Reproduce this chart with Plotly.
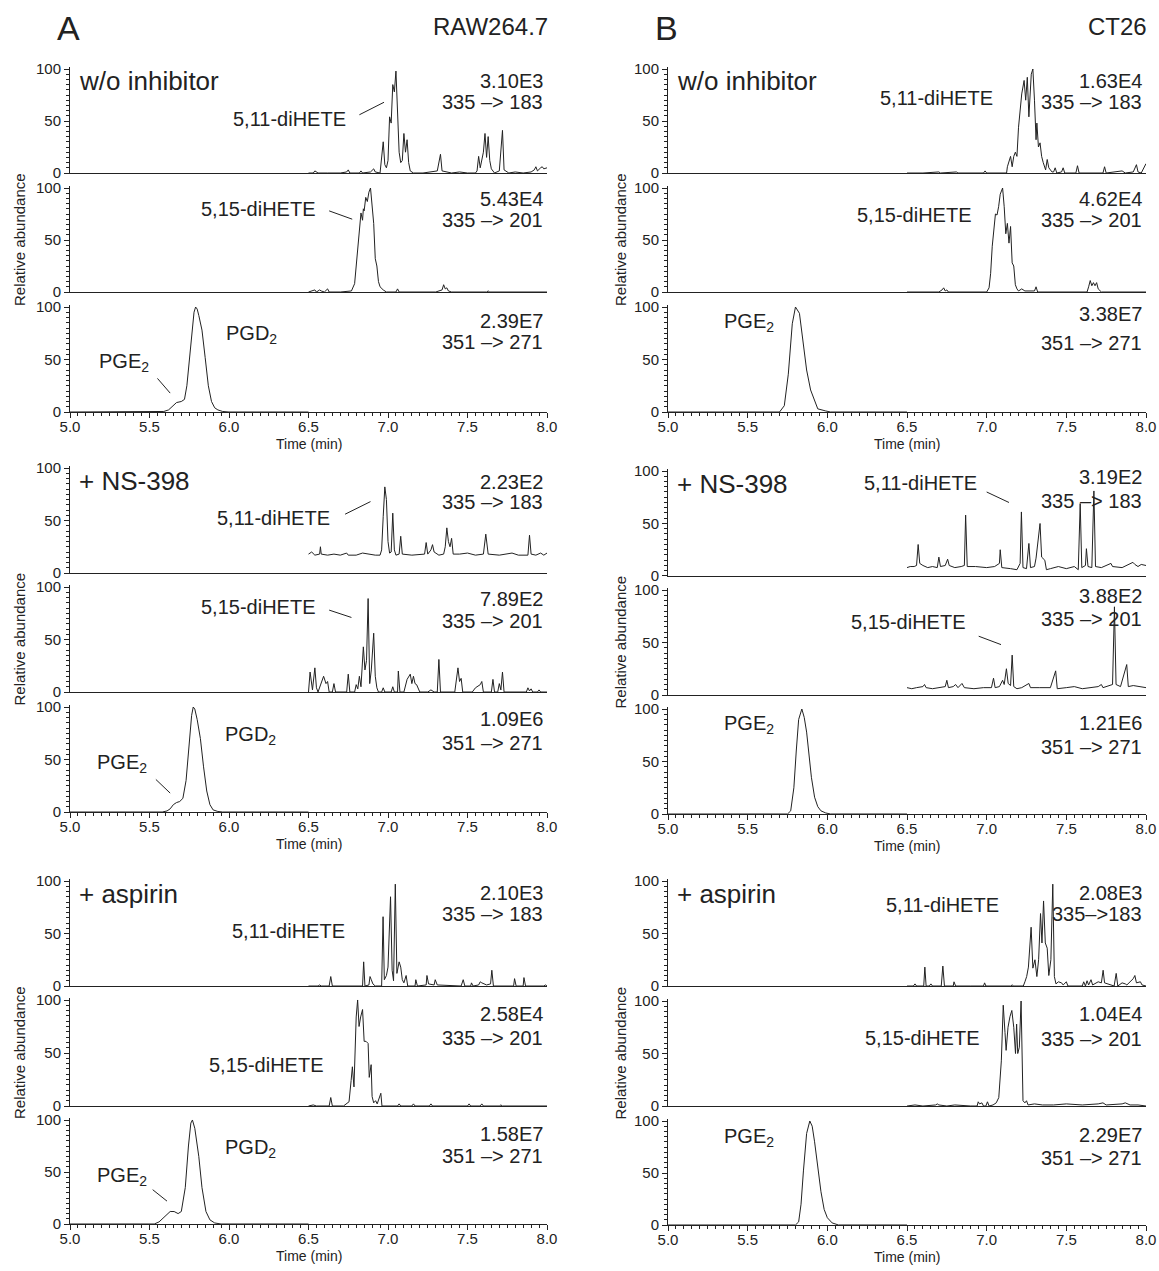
import plotly.graph_objects as go

W, H = 1159, 1271

# ---------------- data: (time [min], relative abundance [%]) ----------------
# RAW264.7, w/o inhibitor
raw_wo_183 = [(6.50,0),(6.53,0),(6.54,2),(6.56,0),(6.62,0),(6.70,0),(6.74,1),(6.75,3),(6.76,0),(6.82,0),(6.83,2),(6.84,0),
              (6.89,1),(6.91,4),(6.92,1),(6.95,0),(6.97,30),(6.98,8),(6.99,5),(7.00,12),(7.01,54),(7.02,48),(7.03,85),(7.04,78),
              (7.05,98),(7.06,62),(7.07,20),(7.08,10),(7.09,12),(7.10,38),(7.11,20),(7.12,32),(7.13,10),(7.14,2),(7.16,0),(7.22,0),
              (7.28,1),(7.31,2),(7.33,18),(7.34,2),(7.40,0),(7.45,1),(7.50,0),(7.55,0),(7.56,2),(7.57,16),(7.58,5),(7.60,20),
              (7.61,38),(7.62,15),(7.63,35),(7.64,12),(7.65,4),(7.67,0),(7.70,2),(7.71,20),(7.72,41),(7.73,3),(7.76,0),(7.80,1),
              (7.85,0),(7.90,1),(7.92,3),(7.93,6),(7.94,2),(7.96,5),(7.97,6),(7.98,4),(8.00,5)]
raw_wo_201 = [(6.50,0),(6.52,1),(6.54,2),(6.55,0),(6.57,2),(6.58,1),(6.60,0),(6.62,3),(6.63,0),(6.70,0),(6.77,1),(6.79,8),
              (6.80,25),(6.81,45),(6.82,62),(6.83,76),(6.84,69),(6.845,80),(6.85,78),(6.86,91),(6.87,87),(6.88,96),(6.89,100),
              (6.90,84),(6.91,66),(6.92,32),(6.93,25),(6.94,10),(6.95,5),(6.97,2),(6.99,0),(7.05,0),(7.06,3),(7.07,0),(7.30,0),
              (7.34,2),(7.35,7),(7.36,3),(7.37,4),(7.38,1),(7.40,0),(7.62,0),(7.63,1),(7.64,0),(8.00,0)]
raw_wo_271 = [(5.00,0),(5.55,0),(5.59,0.5),(5.62,2),(5.65,6),(5.67,9),(5.70,10),(5.72,12),(5.735,25),(5.75,48),(5.77,82),
              (5.78,95),(5.79,100),(5.80,98),(5.81,92),(5.83,78),(5.85,52),(5.87,25),(5.89,10),(5.91,4),(5.93,2),(5.96,0.5),
              (6.00,0),(6.50,0)]
# RAW264.7, + NS-398
raw_ns_183 = [(6.50,18),(6.52,20),(6.54,17),(6.57,18),(6.575,25),(6.58,18),(6.62,17),(6.66,18),(6.70,17),(6.74,19),(6.75,17),
              (6.80,17),(6.84,19),(6.88,18),(6.92,17),(6.95,17),(6.96,22),(6.97,54),(6.98,82),(6.99,70),(7.00,30),(7.01,19),
              (7.02,20),(7.03,57),(7.04,22),(7.05,17),(7.07,18),(7.08,35),(7.09,18),(7.15,17),(7.20,18),(7.23,18),(7.24,29),
              (7.25,18),(7.27,22),(7.28,27),(7.29,20),(7.32,17),(7.35,18),(7.36,25),(7.37,43),(7.38,30),(7.39,25),(7.40,33),
              (7.41,18),(7.45,18),(7.50,19),(7.55,17),(7.60,18),(7.615,37),(7.63,18),(7.70,17),(7.78,19),(7.82,17),(7.88,17),
              (7.89,36),(7.90,18),(7.93,17),(7.96,19),(7.98,17),(8.00,19)]
raw_ns_201 = [(6.50,0),(6.51,19),(6.525,2),(6.54,23),(6.55,4),(6.56,0),(6.595,15),(6.61,8),(6.62,10),(6.63,0),(6.65,0),
              (6.66,8),(6.67,0),(6.74,0),(6.75,17),(6.76,0),(6.79,0),(6.80,7),(6.81,3),(6.82,15),(6.83,5),(6.845,43),
              (6.855,21),(6.865,30),(6.875,89),(6.885,8),(6.895,21),(6.91,56),(6.92,15),(6.93,4),(6.94,0),(6.96,0),(6.97,4),
              (6.98,0),(7.02,0),(7.03,5),(7.04,0),(7.06,0),(7.065,20),(7.075,0),(7.10,0),(7.12,12),(7.14,17),(7.15,8),
              (7.16,15),(7.17,8),(7.18,7),(7.20,0),(7.25,0),(7.27,2),(7.29,0),(7.31,0),(7.32,31),(7.33,0),(7.42,0),(7.44,23),
              (7.45,10),(7.46,13),(7.47,0),(7.53,0),(7.55,4),(7.57,6),(7.58,7),(7.59,10),(7.60,0),(7.65,0),(7.66,12),(7.67,0),
              (7.69,0),(7.70,8),(7.71,2),(7.72,19),(7.73,0),(7.87,0),(7.88,4),(7.89,1),(7.90,3),(7.91,0),(7.94,0),(7.95,2),
              (7.96,0),(8.00,0)]
raw_ns_271 = [(5.00,0),(5.58,0),(5.61,1),(5.63,3),(5.65,7),(5.67,9),(5.69,10),(5.71,13),(5.73,30),(5.75,65),(5.765,92),
              (5.775,100),(5.785,98),(5.80,88),(5.82,70),(5.84,43),(5.86,20),(5.88,7),(5.90,2),(5.93,0.5),(5.96,0),(6.50,0)]
# RAW264.7, + aspirin
raw_asp_183 = [(6.50,0),(6.56,0),(6.57,1),(6.58,0),(6.63,0),(6.64,9),(6.65,0),(6.84,0),(6.847,23),(6.855,0),(6.88,1),
               (6.887,9),(6.895,6),(6.905,2),(6.92,0),(6.96,0),(6.969,66),(6.977,6),(6.99,10),(7.00,18),(7.016,85),(7.026,15),
               (7.035,5),(7.046,97),(7.056,12),(7.07,23),(7.08,18),(7.09,6),(7.10,3),(7.114,10),(7.124,0),(7.17,0),(7.175,6),
               (7.185,0),(7.24,1),(7.245,10),(7.255,2),(7.29,1),(7.297,6),(7.31,1),(7.46,0),(7.473,6),(7.483,0),(7.52,0),
               (7.525,3),(7.535,0),(7.57,1),(7.58,4),(7.59,3),(7.61,2),(7.62,1),(7.645,2),(7.653,15),(7.663,0),(7.79,0),
               (7.796,7),(7.806,0),(7.85,0),(7.855,8),(7.865,0),(7.98,0),(7.99,1),(8.00,0)]
raw_asp_201 = [(6.50,0),(6.53,1),(6.55,0),(6.63,0),(6.64,8),(6.65,0),(6.72,0),(6.74,2),(6.755,4),(6.768,24),(6.776,37),
               (6.786,18),(6.80,84),(6.809,100),(6.818,75),(6.828,84),(6.84,91),(6.85,61),(6.862,61),(6.875,59),(6.882,27),
               (6.894,39),(6.90,9),(6.91,3),(6.922,5),(6.932,2),(6.945,7),(6.955,12),(6.962,0),(7.06,0),(7.07,2),(7.08,0),
               (7.15,0),(7.16,2),(7.17,0),(7.26,0),(7.27,2),(7.28,0),(7.50,0),(7.51,2),(7.52,0),(7.58,0),(7.59,2),(7.60,0),
               (7.70,0),(7.71,1),(7.72,0),(8.00,0)]
raw_asp_271 = [(5.00,0),(5.53,0),(5.56,2),(5.59,6),(5.61,9),(5.63,12),(5.655,12),(5.68,10),(5.70,12),(5.725,35),(5.745,75),
               (5.76,97),(5.77,100),(5.785,92),(5.81,65),(5.83,35),(5.855,12),(5.88,4),(5.91,1),(5.95,0),(6.50,0)]
# CT26, w/o inhibitor
ct_wo_183 = [(6.50,0),(6.60,0),(6.70,1),(6.71,0),(6.81,1),(6.82,0),(6.98,0),(6.99,2),(7.00,0),(7.125,0),(7.13,6),(7.14,10),
             (7.15,16),(7.16,6),(7.17,16),(7.18,20),(7.19,16),(7.20,44),(7.21,63),(7.22,76),(7.235,89),(7.245,70),(7.255,92),
             (7.265,54),(7.28,95),(7.29,100),(7.30,70),(7.31,32),(7.315,48),(7.325,25),(7.335,29),(7.345,16),(7.355,10),
             (7.37,3),(7.38,13),(7.39,5),(7.41,1),(7.42,1),(7.43,5),(7.44,0),(7.47,1),(7.48,5),(7.49,0),(7.56,0),(7.57,7),
             (7.58,0),(7.73,0),(7.74,6),(7.75,0),(7.85,2),(7.87,0),(7.92,1),(7.94,8),(7.95,1),(7.97,0),(7.99,6),(8.00,9)]
ct_wo_201 = [(6.50,0),(6.60,0),(6.70,0),(6.72,2),(6.73,4),(6.74,1),(6.75,2),(6.76,0),(7.00,0),(7.015,4),(7.025,18),
             (7.035,44),(7.045,63),(7.055,75),(7.065,74),(7.075,82),(7.085,94),(7.10,100),(7.11,82),(7.12,56),(7.13,66),
             (7.14,47),(7.15,63),(7.16,28),(7.17,25),(7.18,7),(7.19,3),(7.20,1),(7.22,3),(7.24,1),(7.30,1),(7.31,5),(7.32,0),
             (7.63,0),(7.64,5),(7.65,11),(7.66,6),(7.67,9),(7.68,6),(7.69,9),(7.70,3),(7.72,0),(8.00,0)]
ct_wo_271 = [(5.00,0),(5.70,0),(5.73,6),(5.755,36),(5.78,84),(5.80,100),(5.825,94),(5.85,65),(5.87,40),(5.895,21),
             (5.92,10),(5.94,3),(5.99,1),(6.02,0),(6.50,0)]
# CT26, + NS-398
ct_ns_183 = [(6.50,8),(6.52,9),(6.545,9),(6.56,10),(6.57,30),(6.58,12),(6.60,10),(6.63,8),(6.66,9),(6.69,8),(6.70,18),
             (6.71,9),(6.74,10),(6.755,16),(6.765,10),(6.80,8),(6.84,9),(6.86,10),(6.868,58),(6.878,9),(6.93,9),(7.00,8),
             (7.05,9),(7.08,12),(7.085,25),(7.095,8),(7.15,7),(7.19,6),(7.21,12),(7.218,61),(7.228,8),(7.25,7),(7.265,31),
             (7.275,8),(7.30,9),(7.31,17),(7.335,50),(7.345,18),(7.365,15),(7.375,6),(7.40,7),(7.45,9),(7.50,7),(7.55,9),
             (7.575,6),(7.587,69),(7.597,8),(7.62,10),(7.626,26),(7.636,9),(7.66,8),(7.673,81),(7.683,9),(7.72,8),(7.78,12),
             (7.79,9),(7.85,8),(7.88,10),(7.918,13),(7.93,11),(7.95,9),(7.97,11),(8.00,10)]
ct_ns_201 = [(6.50,7),(6.53,6),(6.56,7),(6.60,8),(6.61,10),(6.62,7),(6.66,6),(6.70,7),(6.74,8),(6.75,14),(6.76,7),(6.79,8),
             (6.805,10),(6.82,7),(6.835,9),(6.845,11),(6.86,7),(6.92,6),(6.98,7),(7.03,7),(7.043,16),(7.053,7),(7.08,8),
             (7.10,14),(7.11,10),(7.124,25),(7.135,11),(7.15,9),(7.16,38),(7.17,8),(7.19,6),(7.22,7),(7.265,11),(7.275,7),
             (7.33,7),(7.40,7),(7.433,23),(7.443,6),(7.50,7),(7.55,8),(7.60,6),(7.65,7),(7.70,8),(7.72,10),(7.73,7),(7.79,10),
             (7.802,84),(7.812,10),(7.84,8),(7.879,29),(7.889,8),(7.92,9),(7.95,8),(7.98,7),(8.00,7)]
ct_ns_271 = [(5.00,0),(5.75,0),(5.77,3),(5.79,25),(5.805,60),(5.82,90),(5.84,100),(5.855,92),(5.87,78),(5.885,55),(5.90,35),
             (5.92,16),(5.94,7),(5.96,3),(5.99,1),(6.02,0),(6.50,0)]
# CT26, + aspirin
ct_asp_183 = [(6.50,0),(6.54,0),(6.55,2),(6.56,0),(6.605,0),(6.612,18),(6.62,0),(6.64,0),(6.65,2),(6.66,0),(6.715,0),
              (6.725,19),(6.735,0),(6.79,0),(6.795,4),(6.805,0),(6.90,0),(6.98,0),(6.987,3),(6.995,0),(7.15,0),(7.16,1),
              (7.17,0),(7.23,0),(7.24,4),(7.251,9),(7.262,18),(7.279,56),(7.29,17),(7.303,25),(7.315,9),(7.326,25),(7.338,69),
              (7.347,41),(7.357,81),(7.368,41),(7.38,36),(7.39,10),(7.403,25),(7.415,97),(7.425,9),(7.435,2),(7.45,4),
              (7.47,3),(7.48,1),(7.50,4),(7.51,0),(7.60,0),(7.609,4),(7.62,0),(7.63,5),(7.64,1),(7.655,6),(7.665,1),(7.70,4),
              (7.72,3),(7.731,15),(7.74,3),(7.80,0),(7.813,12),(7.823,0),(7.85,3),(7.87,2),(7.88,1),(7.92,7),(7.93,10),
              (7.94,3),(7.965,4),(7.975,1),(7.99,0),(8.00,0)]
ct_asp_201 = [(6.50,0),(6.55,1),(6.60,0),(6.68,1),(6.69,2),(6.70,1),(6.75,0),(6.80,1),(6.90,0),(6.94,0),(6.947,4),(6.955,2),
              (6.97,3),(6.98,0),(6.995,0),(7.005,4),(7.015,0),(7.04,1),(7.06,3),(7.076,8),(7.092,43),(7.104,96),(7.115,70),
              (7.122,53),(7.134,75),(7.146,85),(7.158,91),(7.17,75),(7.181,50),(7.188,78),(7.195,50),(7.205,56),(7.216,100),
              (7.228,5),(7.24,3),(7.25,5),(7.26,1),(7.30,2),(7.35,1),(7.42,1),(7.50,2),(7.60,1),(7.70,2),(7.73,3),(7.75,1),
              (7.85,2),(7.87,3),(7.90,1),(7.95,1),(8.00,0)]
ct_asp_271 = [(5.00,0),(5.80,0),(5.82,3),(5.835,20),(5.85,52),(5.87,88),(5.89,100),(5.905,95),(5.92,80),(5.94,55),(5.96,32),
              (5.98,15),(6.00,7),(6.03,2),(6.07,0),(6.50,0)]

conditions = ["w/o inhibitor", "+ NS-398", "+ aspirin"]
cell_lines = ["RAW264.7", "CT26"]
panel_letters = ["A", "B"]
x_ticks = [5.0, 5.5, 6.0, 6.5, 7.0, 7.5, 8.0]
y_ticks = [0, 50, 100]

# intensity / transition labels per panel: [column][group][panel]
intensities = [
    [["3.10E3", "5.43E4", "2.39E7"], ["2.23E2", "7.89E2", "1.09E6"], ["2.10E3", "2.58E4", "1.58E7"]],
    [["1.63E4", "4.62E4", "3.38E7"], ["3.19E2", "3.88E2", "1.21E6"], ["2.08E3", "1.04E4", "2.29E7"]],
]
transitions = [
    [["335 –> 183", "335 –> 201", "351 –> 271"]] * 3,
    [["335 –> 183", "335 –> 201", "351 –> 271"], ["335 –> 183", "335 –> 201", "351 –> 271"],
     ["335–>183", "335 –> 201", "351 –> 271"]],
]
series = [
    [[raw_wo_183, raw_wo_201, raw_wo_271], [raw_ns_183, raw_ns_201, raw_ns_271], [raw_asp_183, raw_asp_201, raw_asp_271]],
    [[ct_wo_183, ct_wo_201, ct_wo_271], [ct_ns_183, ct_ns_201, ct_ns_271], [ct_asp_183, ct_asp_201, ct_asp_271]],
]

# ---------------- layout geometry (pixels) ----------------
X_PIX = [(70, 547), (668, 1146)]
Y_PIX = [
    [[(69, 173), (188, 292), (307, 412)], [(468, 573), (587, 692), (707, 812)], [(881, 986), (1000, 1106), (1120, 1224)]],
    [[(69, 173), (188, 292), (307, 412)], [(471, 576), (590, 695), (709, 814)], [(881, 986), (1001, 1106), (1121, 1225)]],
]
LBL_Y = [
    [[(88, 68), (89, 69), (87, 67)], [(87, 68), (89, 68), (89, 66)], [(89, 69), (87, 64), (87, 65)]],
    [[(88, 68), (89, 69), (93, 66)], [(94, 71), (94, 72), (87, 64)], [(89, 69), (88, 64), (87, 64)]],
]
COMP = [
    [
        [[("5,11-diHETE", 6.75, 52, "right")], [("5,15-diHETE", 6.56, 80, "right")],
         [("PGD<sub>2</sub>", 5.97, 74, "left"), ("PGE<sub>2</sub>", 5.17, 47, "left")]],
        [[("5,11-diHETE", 6.65, 52, "right")], [("5,15-diHETE", 6.56, 81, "right")],
         [("PGD<sub>2</sub>", 5.96, 73, "left"), ("PGE<sub>2</sub>", 5.16, 46, "left")]],
        [[("5,11-diHETE", 6.74, 52, "right")], [("5,15-diHETE", 6.61, 39, "right")],
         [("PGD<sub>2</sub>", 5.96, 73, "left"), ("PGE<sub>2</sub>", 5.16, 46, "left")]],
    ],
    [
        [[("5,11-diHETE", 7.05, 72, "right")], [("5,15-diHETE", 6.92, 74, "right")],
         [("PGE<sub>2</sub>", 5.34, 85, "left")]],
        [[("5,11-diHETE", 6.95, 89, "right")], [("5,15-diHETE", 6.88, 70, "right")],
         [("PGE<sub>2</sub>", 5.34, 85, "left")]],
        [[("5,11-diHETE", 7.09, 77, "right")], [("5,15-diHETE", 6.97, 65, "right")],
         [("PGE<sub>2</sub>", 5.34, 84, "left")]],
    ],
]
LEADERS = [
    [
        [[(6.82, 56, 6.975, 68)], [(6.63, 78, 6.775, 70)], [(5.55, 32, 5.63, 18)]],
        [[(6.73, 56, 6.89, 68)], [(6.63, 78, 6.77, 71)], [(5.54, 31, 5.63, 18)]],
        [[], [], [(5.52, 33, 5.61, 22)]],
    ],
    [
        [[], [], []],
        [[(7.0, 80, 7.14, 70)], [(6.95, 56, 7.09, 48)], []],
        [[], [], []],
    ],
]

FONT = "Liberation Sans, Arial, Helvetica, sans-serif"
INK = "#222222"
YMAX = 101.5

def px_x(p):
    return p / W

def px_y(p):
    return 1 - p / H

fig = go.Figure()
layout = dict(width=W, height=H, autosize=False, margin=dict(l=0, r=0, t=0, b=0, pad=0, autoexpand=False),
              paper_bgcolor="white", plot_bgcolor="white",
              showlegend=False, font=dict(family=FONT, color=INK, size=15))
annotations = []
shapes = []

k = 0
for c in range(2):
    x0p, x1p = X_PIX[c]
    for g in range(3):
        for p in range(3):
            k += 1
            sfx = "" if k == 1 else str(k)
            top, bot = Y_PIX[c][g][p]
            top_ext = top - (bot - top) * (YMAX - 100) / 100
            pts = series[c][g][p]
            fig.add_trace(go.Scatter(x=[q[0] for q in pts], y=[q[1] for q in pts], mode="lines",
                                     line=dict(color=INK, width=1), xaxis="x" + sfx, yaxis="y" + sfx,
                                     hoverinfo="skip"))
            bottom_panel = (p == 2)
            xa = dict(
                domain=[px_x(x0p), px_x(x1p)], anchor="y" + sfx, range=[5, 8], showgrid=False, zeroline=False,
                showline=True, linecolor=INK, linewidth=1, automargin=False,
                ticks="outside" if bottom_panel else "", ticklen=5, tickwidth=1, tickcolor=INK,
                tickvals=x_ticks if bottom_panel else [], ticktext=[f"{v:.1f}" for v in x_ticks] if bottom_panel else [],
                showticklabels=bottom_panel, tickfont=dict(size=15, color=INK, family=FONT),
            )
            if bottom_panel:
                xa["minor"] = dict(dtick=0.05, ticklen=3, tickwidth=1, tickcolor=INK, ticks="outside")
                xa["ticklabelstandoff"] = -4
            layout["xaxis" + sfx] = xa
            layout["yaxis" + sfx] = dict(
                domain=[px_y(bot), px_y(top_ext)], anchor="x" + sfx, range=[0, YMAX], showgrid=False, zeroline=False,
                showline=True, linecolor=INK, linewidth=1, ticks="outside", ticklen=5, tickwidth=1, tickcolor=INK,
                tickvals=y_ticks, tickfont=dict(size=15, color=INK, family=FONT), automargin=False,
                minor=dict(dtick=5, ticklen=3, tickwidth=1, tickcolor=INK, ticks="outside"),
            )
            xr, yr = "x" + sfx, "y" + sfx
            iy, ty = LBL_Y[c][g][p]
            annotations.append(dict(text=intensities[c][g][p], x=7.99, y=iy, xref=xr, yref=yr, xanchor="right",
                                    yanchor="middle", showarrow=False, font=dict(size=20)))
            annotations.append(dict(text=transitions[c][g][p], x=7.99, y=ty, xref=xr, yref=yr, xanchor="right",
                                    yanchor="middle", showarrow=False, font=dict(size=20)))
            for (txt, tx, tyy, anc) in COMP[c][g][p]:
                annotations.append(dict(text=txt, x=tx, y=tyy, xref=xr, yref=yr, xanchor=anc, yanchor="middle",
                                        showarrow=False, font=dict(size=20)))
            for (a0, b0, a1, b1) in LEADERS[c][g][p]:
                shapes.append(dict(type="line", xref=xr, yref=yr, x0=a0, y0=b0, x1=a1, y1=b1,
                                   line=dict(color=INK, width=1)))
            if p == 0:
                annotations.append(dict(text=conditions[g], x=5.045, y=88, xref=xr, yref=yr, xanchor="left",
                                        yanchor="middle", showarrow=False, font=dict(size=26)))
            if p == 1:
                annotations.append(dict(text="Relative abundance", x=px_x(19 if c == 0 else 620),
                                        y=px_y((top + bot) / 2), xref="paper", yref="paper", textangle=-90,
                                        xanchor="center", yanchor="middle", showarrow=False, font=dict(size=15)))
            if p == 2:
                annotations.append(dict(text="Time (min)", x=6.5, y=px_y(bot + 32), xref=xr, yref="paper",
                                        xanchor="center", yanchor="middle", showarrow=False, font=dict(size=14)))
    annotations.append(dict(text=panel_letters[c], x=px_x(x0p - 2), y=px_y(28), xref="paper", yref="paper",
                            xanchor="center", yanchor="middle", showarrow=False, font=dict(size=34)))
    annotations.append(dict(text=cell_lines[c], x=px_x(x1p + 3), y=px_y(27), xref="paper", yref="paper",
                            xanchor="right", yanchor="middle", showarrow=False, font=dict(size=24)))

layout["annotations"] = annotations
layout["shapes"] = shapes
fig.update_layout(**layout)
fig.write_html("out.html", config={"displayModeBar": False},
               post_script="document.body.style.margin='0';document.body.style.overflow='hidden';")
